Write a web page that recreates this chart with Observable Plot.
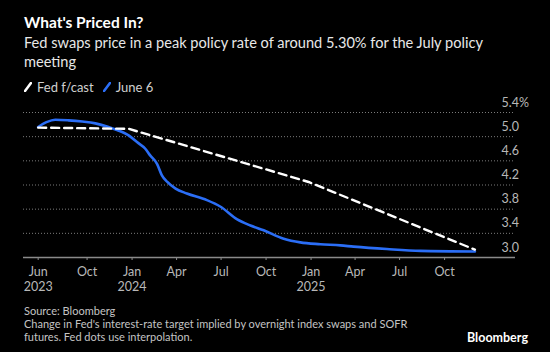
<!DOCTYPE html>
<html>
<head>
<meta charset="utf-8">
<script src="https://cdn.jsdelivr.net/npm/d3@7"></script>
<script src="https://cdn.jsdelivr.net/npm/@observablehq/plot@0.6"></script>
<style>
  html, body { margin: 0; padding: 0; background: #000; }
  #wrap { position: relative; width: 550px; height: 352px; background: #000; overflow: hidden; font-family: Lato, "Noto Sans", sans-serif; }
  .t { position: absolute; left: 24px; white-space: nowrap; }
  #title { top: 13px; font-size: 15.5px; font-weight: bold; color: #fff; }
  #sub { top: 33px; font-size: 14.6px; line-height: 19px; color: #e8e8e8; white-space: normal; width: 480px; }
  #legend { top: 79px; font-size: 13px; color: #d0d0d0; display: flex; align-items: center; }
  #legend span.item { display: inline-flex; align-items: center; margin-right: 9px; }
  #legend svg { margin-right: 5px; }
  #foot { top: 304px; font-size: 11px; line-height: 13px; color: #c4c4c4; }
  #logo { position: absolute; right: 22px; top: 330px; font-size: 12.5px; font-weight: bold; color: #fff; }
  #chart { position: absolute; left: 0; top: 0; }
</style>
</head>
<body>
<div id="wrap">
  <div id="chart"></div>
  <div class="t" id="title">What's Priced In?</div>
  <div class="t" id="sub">Fed swaps price in a peak policy rate of around 5.30% for the July policy meeting</div>
  <div class="t" id="legend"></div>
  <div class="t" id="foot">Source: Bloomberg<br>Change in Fed's interest-rate target implied by overnight index swaps and SOFR<br>futures. Fed dots use interpolation.</div>
  <div id="logo">Bloomberg</div>
</div>
<script>
// ---- data ----
const seriesNames = ["Fed f/cast", "June 6"];
const seriesColors = ["#ffffff", "#2b6ef6"];

const fedDates  = ["2023-06-23", "2023-12-25", "2024-12-27", "2025-12-02"];
const fedValues = [5.15, 5.13, 4.25, 3.13];

const swapDates = ["2023-06-23","2023-07-10","2023-07-28","2023-08-24","2023-09-21","2023-10-18","2023-11-14","2023-12-08","2023-12-25",
  "2024-01-11","2024-01-28","2024-02-07","2024-02-21","2024-03-02","2024-03-13","2024-03-30","2024-04-22","2024-06-02","2024-06-30",
  "2024-08-03","2024-08-30","2024-09-26","2024-11-06","2024-12-10","2025-01-20","2025-03-02","2025-03-29","2025-06-05","2025-08-13","2025-12-02"];
const swapValues = [5.16,5.24,5.28,5.27,5.25,5.22,5.16,5.09,5.02,
  4.91,4.80,4.69,4.55,4.36,4.25,4.14,4.06,3.95,3.84,
  3.63,3.53,3.45,3.31,3.25,3.22,3.20,3.18,3.14,3.11,3.10];

const xTickDates  = ["2023-06-23","2023-10-01","2024-01-01","2024-04-01","2024-07-01","2024-10-01","2025-01-01","2025-04-01","2025-07-01","2025-10-01"];
const xTickLabels = ["Jun\n2023","Oct","Jan\n2024","Apr","Jul","Oct","Jan\n2025","Apr","Jul","Oct"];
const yTicks = [3.0, 3.4, 3.8, 4.2, 4.6, 5.0, 5.4];
const yGrid = [3.4, 3.8, 4.2, 4.6, 5.0, 5.4];

// ---- build ----
const parse = d3.utcParse("%Y-%m-%d");
const fed = fedDates.map((d, i) => ({date: parse(d), value: fedValues[i]}));
const swaps = swapDates.map((d, i) => ({date: parse(d), value: swapValues[i]}));
const tickDates = xTickDates.map(parse);
const tickLabel = new Map(tickDates.map((d, i) => [+d, xTickLabels[i]]));

// legend
const legend = document.getElementById("legend");
seriesNames.forEach((n, i) => {
  const s = document.createElement("span");
  s.className = "item";
  s.innerHTML = `<svg width="8" height="10"><line x1="1" y1="9" x2="7" y2="1" stroke="${seriesColors[i]}" stroke-width="2.6" stroke-linecap="round"/></svg>${n}`;
  legend.appendChild(s);
});

const chart = Plot.plot({
  width: 550,
  height: 352,
  marginLeft: 23,
  marginRight: 35,
  marginTop: 112,
  marginBottom: 95,
  style: {background: "transparent", color: "#b8b8b8", fontFamily: "Lato, 'Noto Sans', sans-serif", fontSize: "12.5px"},
  x: {type: "utc", domain: [parse("2023-05-24"), parse("2026-02-23")]},
  y: {domain: [3.0, 5.4]},
  marks: [
    Plot.gridY(yGrid, {stroke: "#9a9a9a", strokeOpacity: 0.8, strokeDasharray: "1,2", strokeWidth: 1}),
    Plot.axisY(yTicks, {anchor: "right", tickSize: 0, tickPadding: 0, dx: -14, dy: -10, textAnchor: "start",
      tickFormat: d => d === 5.4 ? "5.4%" : d.toFixed(1), fill: "#b8b8b8", fontSize: 12.5, label: null}),
    Plot.ruleY([3.0], {stroke: "#8a8a8a", strokeWidth: 1.5}),
    Plot.axisX(tickDates, {anchor: "bottom", tickSize: 3, tickPadding: 5, stroke: "#8a8a8a",
      tickFormat: d => tickLabel.get(+d), fill: "#b8b8b8", fontSize: 12.5, lineHeight: 1.2, label: null}),
    Plot.line(swaps, {x: "date", y: "value", stroke: seriesColors[1], strokeWidth: 2.6, curve: "monotone-x"}),
    Plot.line(fed, {x: "date", y: "value", stroke: seriesColors[0], strokeWidth: 2.4, strokeDasharray: "8,5"})
  ]
});
document.getElementById("chart").appendChild(chart);
</script>
</body>
</html>
